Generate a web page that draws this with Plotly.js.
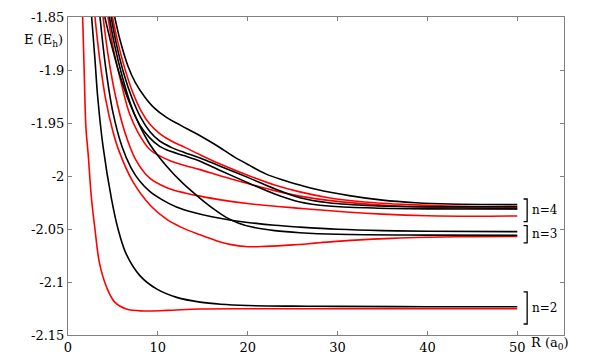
<!DOCTYPE html>
<html>
<head>
<meta charset="utf-8">
<script src="https://cdn.plot.ly/plotly-3.0.1.min.js"></script>
<style>
  html, body { margin: 0; padding: 0; background: #fff; }
  #plot { width: 589px; height: 364px; }
</style>
</head>
<body>
<div id="plot"></div>
<script>
// potential curves E(R) (R in a0, E in Eh)

// n=2
const n2RedR = [1.63, 1.8, 2.0, 2.25, 2.6, 3.0, 3.5, 4.3, 5.2, 6.5, 8.4, 11, 14.7, 20, 30, 50];
const n2RedE = [-1.85, -1.9, -1.955, -1.98, -2.02, -2.05, -2.082, -2.105, -2.119, -2.1255, -2.1273, -2.1268, -2.1255, -2.1252, -2.1252, -2.1252];
const n2BlackR = [2.63, 3.0, 3.3, 3.9, 4.85, 5.6, 6.5, 8, 9.85, 12.1, 14.7, 17, 20, 25, 30, 40, 50];
const n2BlackE = [-1.85, -1.89, -1.925, -1.972, -2.022, -2.051, -2.074, -2.094, -2.1065, -2.1145, -2.119, -2.121, -2.1222, -2.1228, -2.123, -2.1233, -2.1233];

// n=3
const n3RedR = [3.0, 3.5, 4.2, 5, 5.7, 7.2, 9.2, 11, 12.5, 14.7, 16.5, 18, 20, 22, 25, 28, 32, 36, 40, 45, 50];
const n3RedE = [-1.85, -1.888, -1.928, -1.958, -1.977, -2.005, -2.028, -2.041, -2.048, -2.0555, -2.061, -2.0645, -2.0667, -2.0664, -2.065, -2.063, -2.0605, -2.0588, -2.0578, -2.0572, -2.057];
const n3BlackAR = [3.56, 4.2, 5, 6, 7, 8, 9.1, 10.5, 12, 14, 16, 18, 20, 23, 25.8, 30, 35, 40, 50];
const n3BlackAE = [-1.85, -1.898, -1.94, -1.972, -1.992, -2.005, -2.0145, -2.0225, -2.029, -2.0345, -2.0385, -2.0415, -2.0438, -2.0465, -2.0482, -2.0502, -2.0515, -2.0521, -2.0525];
const n3BlackBR = [4.1, 4.8, 5.7, 6.8, 8, 9.1, 11, 12.8, 14.7, 16.2, 17.6, 19, 20.5, 23, 25.8, 30, 40, 50];
const n3BlackBE = [-1.85, -1.875, -1.903, -1.93, -1.953, -1.97, -1.991, -2.007, -2.021, -2.031, -2.039, -2.0445, -2.0482, -2.0515, -2.0535, -2.055, -2.0558, -2.056];

// n=4
const n4RedAR = [3.9, 4.5, 5.3, 6.3, 7.5, 9.1, 11, 13, 14.7, 17, 20, 25.8, 31, 35, 40, 45, 50];
const n4RedAE = [-1.85, -1.888, -1.925, -1.958, -1.984, -2.002, -2.011, -2.016, -2.019, -2.0225, -2.026, -2.0305, -2.034, -2.036, -2.0375, -2.038, -2.0377];
const n4RedBR = [4.45, 5.0, 5.8, 6.8, 7.8, 9.1, 10.2, 11.5, 13, 14.7, 17, 20.2, 23, 25.8, 29, 34, 40, 50];
const n4RedBE = [-1.85, -1.878, -1.908, -1.94, -1.959, -1.975, -1.981, -1.986, -1.99, -1.994, -2.0, -2.0075, -2.0138, -2.019, -2.023, -2.027, -2.0295, -2.031];
const n4RedCR = [4.95, 5.5, 6.3, 7.2, 8.1, 9.1, 10.2, 11.5, 13, 14.7, 17, 20.2, 23, 25.8, 29, 33, 38, 44, 50];
const n4RedCE = [-1.85, -1.872, -1.898, -1.921, -1.938, -1.951, -1.96, -1.967, -1.973, -1.98, -1.989, -2.0, -2.0085, -2.015, -2.0205, -2.0245, -2.027, -2.0287, -2.0295];
const n4BlackAR = [4.8, 5.4, 6.2, 7.1, 8.1, 9.1, 10.2, 11.5, 13, 14.7, 17, 20.2, 23, 25.8, 29, 34, 40, 50];
const n4BlackAE = [-1.85, -1.876, -1.903, -1.926, -1.945, -1.958, -1.967, -1.973, -1.978, -1.983, -1.991, -2.002, -2.012, -2.0205, -2.0252, -2.028, -2.029, -2.029];
const n4BlackBR = [4.6, 5.2, 6.0, 7.0, 8.0, 9.1, 10.2, 11.5, 13, 14.7, 17, 20.2, 23, 25.8, 29, 34, 40, 50];
const n4BlackBE = [-1.85, -1.877, -1.905, -1.933, -1.952, -1.964, -1.972, -1.977, -1.981, -1.986, -1.995, -2.007, -2.017, -2.0245, -2.0283, -2.0302, -2.031, -2.031];
const n4BlackCR = [5.2, 5.8, 6.7, 7.5, 8.5, 9.5, 11, 12.5, 14.7, 16.5, 18.5, 20.2, 22, 24, 25.8, 27.6, 31.3, 35, 38.7, 42.4, 50];
const n4BlackCE = [-1.85, -1.872, -1.897, -1.912, -1.925, -1.935, -1.945, -1.952, -1.962, -1.971, -1.982, -1.99, -1.998, -2.004, -2.0085, -2.0125, -2.0185, -2.0228, -2.0252, -2.0264, -2.027];

// bracket groups: label, lower E, upper E
const groupLabels = ['n=4', 'n=3', 'n=2'];
const groupLow = [-2.0431, -2.063, -2.1396];
const groupHigh = [-2.0217, -2.0469, -2.1094];

const black = '#000000';
const red = '#ff0000';
const serif = 'DejaVu Serif';

function curve(x, y, color) {
    return {
        x: x,
        y: y,
        type: 'scatter',
        mode: 'lines',
        line: { color: color, width: 1.6, shape: 'spline', smoothing: 1 },
        hoverinfo: 'skip',
        showlegend: false,
    };
}

const traces = [
    curve(n2RedR, n2RedE, red),
    curve(n3RedR, n3RedE, red),
    curve(n4RedAR, n4RedAE, red),
    curve(n4RedBR, n4RedBE, red),
    curve(n4RedCR, n4RedCE, red),
    curve(n2BlackR, n2BlackE, black),
    curve(n3BlackAR, n3BlackAE, black),
    curve(n3BlackBR, n3BlackBE, black),
    curve(n4BlackAR, n4BlackAE, black),
    curve(n4BlackBR, n4BlackBE, black),
    curve(n4BlackCR, n4BlackCE, black),
];

const bracketIn = 50.7;
const bracketOut = 51.1;
const shapes = [];
const annotations = [];
for (let i = 0; i < groupLabels.length; i++) {
    shapes.push({
        type: 'path',
        xref: 'x', yref: 'y',
        path: `M ${bracketIn},${groupHigh[i]} L ${bracketOut},${groupHigh[i]} L ${bracketOut},${groupLow[i]} L ${bracketIn},${groupLow[i]}`,
        line: { color: '#000', width: 1.3 },
    });
    annotations.push({
        xref: 'x', yref: 'y',
        x: 51.4, y: (groupHigh[i] + groupLow[i]) / 2,
        xanchor: 'left', yanchor: 'middle',
        text: groupLabels[i],
        showarrow: false,
        font: { family: serif, size: 12, color: '#000' },
    });
}

// axis titles sit in the corners like the original
annotations.push({
    xref: 'paper', yref: 'paper',
    x: -0.006, y: 0.925,
    xanchor: 'right', yanchor: 'middle',
    text: 'E (E<sub>h</sub>)',
    showarrow: false,
    font: { family: serif, size: 13, color: '#000' },
});
annotations.push({
    xref: 'paper', yref: 'paper',
    x: 0.93, y: -0.026,
    xanchor: 'left', yanchor: 'middle',
    text: 'R (a<sub>0</sub>)',
    showarrow: false,
    font: { family: serif, size: 13, color: '#000' },
});

const axisStyle = {
    showgrid: false,
    zeroline: false,
    showline: true,
    linecolor: '#808080',
    linewidth: 1,
    mirror: 'ticks',
    ticks: 'inside',
    ticklen: 4,
    tickcolor: '#808080',
    tickfont: { family: serif, size: 13, color: '#000' },
};

const layout = {
    width: 589,
    height: 364,
    margin: { t: 17, b: 29, l: 68, r: 25 },
    paper_bgcolor: '#fff',
    plot_bgcolor: '#fff',
    font: { family: serif, size: 13, color: '#000' },
    showlegend: false,
    xaxis: Object.assign({}, axisStyle, {
        range: [0, 55.2],
        tickvals: [0, 10, 20, 30, 40, 50],
        ticktext: ['0', '10', '20', '30', '40', '50'],
    }),
    yaxis: Object.assign({}, axisStyle, {
        range: [-2.15, -1.85],
        tickvals: [-2.15, -2.1, -2.05, -2, -1.95, -1.9, -1.85],
        ticktext: ['-2.15', '-2.1', '-2.05', '-2', '-1.95', '-1.9', '-1.85'],
    }),
    shapes: shapes,
    annotations: annotations,
};

Plotly.newPlot('plot', traces, layout, { displayModeBar: false, staticPlot: true });
</script>
</body>
</html>
